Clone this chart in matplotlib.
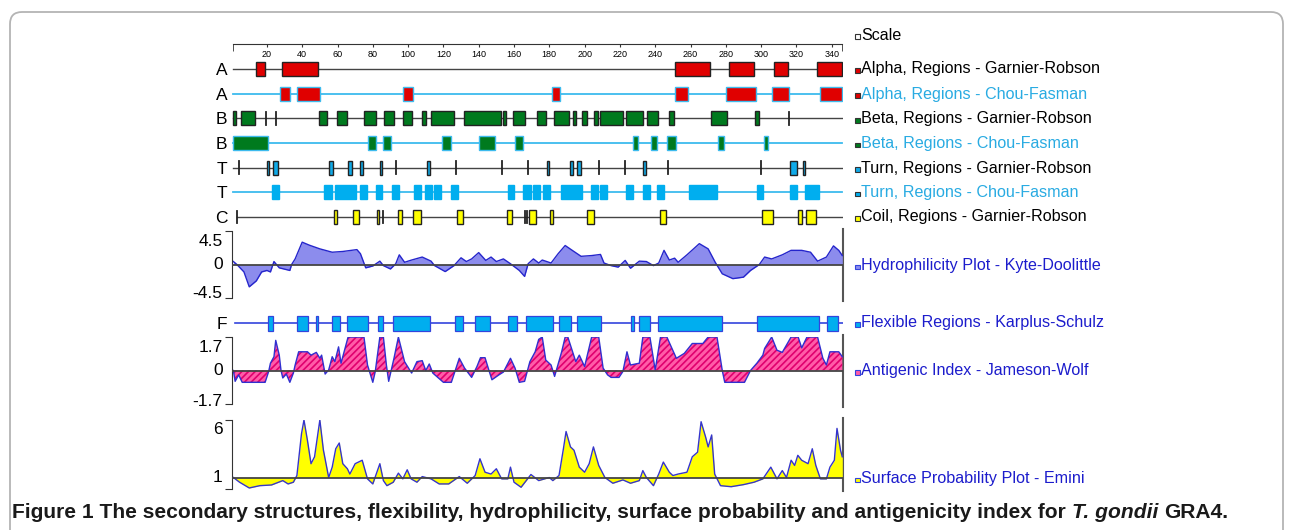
import matplotlib
matplotlib.use("Agg")
import matplotlib.pyplot as plt
from matplotlib.patches import Rectangle, FancyBboxPatch

# ---- secondary structure regions (residue start, residue end) ----
alpha_gr = [(13.8, 19.1), (28.4, 49.1), (251.4, 271.0), (281.8, 296.0), (307.5, 315.0), (331.5, 345.7)]
alpha_cf = [(27.4, 33.0), (36.9, 50.0), (97.0, 102.8), (181.7, 186.0), (251.4, 258.8),
            (280.0, 297.0), (306.0, 316.0), (333.4, 345.7)]
beta_gr = [(1.0, 2.5), (5.1, 13.3), (49.7, 54.2), (59.9, 65.2), (75.0, 81.6), (86.5, 92.2),
           (96.9, 102.0), (107.7, 110.1), (112.8, 126.2), (131.8, 152.5), (153.6, 155.5),
           (159.6, 166.2), (172.9, 178.1), (182.8, 191.3), (193.6, 195.0), (198.7, 201.2),
           (205.5, 207.4), (208.7, 221.9), (223.5, 232.9), (235.5, 241.8), (248.0, 250.8),
           (271.4, 280.8), (296.5, 299.0)]
beta_gr_ticks = [19.7, 25.0, 315.8]
beta_cf = [(1.0, 20.4), (77.1, 81.6), (85.6, 90.1), (119.4, 124.1), (140.2, 149.2), (160.6, 165.3),
           (227.6, 230.4), (237.4, 241.2), (246.9, 251.8), (275.8, 279.0), (301.8, 304.1)]
turn_gr = [(19.9, 21.4), (23.3, 26.5), (55.0, 57.3), (65.8, 68.0), (72.9, 74.3), (84.2, 85.0),
           (110.9, 112.4), (178.5, 180.0), (191.7, 193.2), (195.5, 198.0), (233.3, 234.8),
           (316.4, 320.2), (323.6, 324.9)]
turn_gr_ticks = [4.4, 93.1, 127.0, 153.0, 168.1, 208.2, 222.9, 247.1, 299.8]
turn_cf = [(22.9, 26.9), (52.5, 56.7), (58.6, 70.5), (72.7, 76.5), (81.8, 85.4), (90.7, 94.8),
           (103.2, 107.3), (109.6, 113.7), (114.7, 118.6), (124.3, 128.4), (156.8, 160.2),
           (165.3, 169.6), (170.6, 174.7), (176.6, 180.4), (186.5, 198.4), (203.4, 207.4),
           (208.7, 212.9), (223.5, 227.6), (233.3, 237.0), (241.2, 245.2), (259.3, 275.2),
           (297.5, 301.2), (316.4, 320.6), (325.0, 333.0)]
coil_gr = [(57.8, 59.6), (69.0, 72.2), (82.2, 83.7), (94.1, 96.4), (102.6, 107.1), (127.9, 131.3),
           (155.9, 159.0), (168.7, 172.3), (180.4, 182.3), (201.5, 205.3), (242.7, 246.1),
           (300.7, 306.9), (320.7, 323.3), (325.3, 331.0)]
coil_gr_ticks = [3.2, 85.6, 166.2, 167.2]
flex_ks = [(20.8, 23.6), (36.9, 43.5), (47.8, 49.1), (57.0, 61.4), (65.2, 77.5), (83.1, 85.9),
           (91.6, 112.4), (126.6, 131.3), (137.9, 146.4), (156.8, 161.9), (166.8, 182.3),
           (185.7, 192.3), (195.9, 209.3), (226.3, 228.2), (230.8, 237.0), (241.4, 278.0),
           (297.5, 333.0), (337.2, 343.7)]

# ---- hydrophilicity (Kyte-Doolittle) ----
hyd_pos = [1, 3, 7, 10, 14, 17, 20, 22, 24, 27, 33, 34, 36, 40, 44, 50, 57, 63, 71, 73, 76, 80,
           84, 86, 90, 93, 95, 98, 102, 108, 113, 115, 121, 126, 130, 133, 136, 140, 144, 147,
           150, 154, 158, 163, 166, 168, 171, 174, 176, 181, 185, 189, 193, 198, 204, 209, 211,
           215, 219, 223, 226, 231, 235, 239, 242, 245, 248, 251, 253, 258, 265, 270, 274, 278,
           284, 290, 294, 299, 302, 306, 312, 317, 323, 328, 332, 337, 341, 344, 346]
hyd_val = [0.4, 0.0, -1.0, -3.0, -2.2, -1.0, -0.8, -1.0, 0.4, -0.45, -0.8, 0.0, 0.75, 3.0, 2.6,
           2.1, 1.65, 1.75, 2.0, 1.45, -0.45, -0.2, 0.45, -0.15, -0.6, 0.1, 1.3, 0.3, 0.6, 1.0,
           0.45, -0.15, -0.95, -0.15, 0.9, 0.4, 0.75, 1.6, 0.55, 1.0, 0.4, 0.75, 0.1, -0.8, -1.6,
           0.1, 0.75, 0.2, 0.6, 0.2, 1.45, 2.55, 1.9, 1.1, 1.2, 1.35, 0.2, -0.15, -0.35, 0.55,
           -0.5, 0.45, 0.4, -0.15, 0.2, 1.9, 0.6, 0.85, 0.3, 1.3, 2.8, 2.1, 0.3, -1.25, -1.9,
           -1.7, -0.8, 0.0, 1.0, 0.75, 1.3, 1.9, 1.9, 1.65, 0.45, 1.0, 2.5, 1.9, 1.2]

# ---- antigenic index (Jameson-Wolf) ----
ant_pos = [1, 2, 4, 6, 19, 21, 22, 24, 25, 27, 28, 29, 31, 33, 35, 36, 38, 43, 45, 48, 50, 51,
           53, 55, 57, 58.5, 60.6, 62, 66, 75, 77, 80, 81.4, 84, 86, 87.7, 89, 92, 94.5, 98,
           102, 105, 108, 110, 112, 114, 120, 124.5, 129, 132, 136, 139, 141, 143.6, 146, 147.5,
           151.5, 154, 158, 160.6, 163, 166, 169, 172, 174, 176, 178, 181, 183, 187, 189, 190.5,
           195, 197, 200, 204, 208, 210.5, 213, 215, 219.5, 221.7, 224, 226, 231, 233, 237, 240,
           243, 246.6, 252, 256.5, 261, 267, 270, 275, 278, 279.4, 290.6, 294, 297.6, 301, 302,
           306, 309, 312, 317, 321, 323, 326, 332, 335, 337, 339, 344, 346]
ant_val = [0.0, -0.55, -0.22, -0.6, -0.6, -0.05, 0.37, 0.7, 1.53, 0.78, 0.0, -0.38, -0.18, -0.6,
           -0.13, 0.28, 0.95, 0.95, 0.78, 0.92, 0.62, 0.78, -0.18, 0.03, 0.7, 0.45, 1.2, 0.37,
           1.7, 1.7, 0.28, -0.6, -0.05, 1.7, 1.7, 0.28, -0.55, 0.62, 1.7, 0.45, -0.13, 0.45, 0.5,
           0.0, 0.33, -0.13, -0.6, -0.6, 0.62, 0.12, -0.35, 0.2, 0.65, 0.65, -0.05, -0.47, -0.22,
           -0.08, 0.62, 0.12, -0.6, -0.55, 0.45, 0.95, 1.58, 1.7, 0.53, 0.28, -0.3, 0.95, 1.7,
           1.7, 0.45, 0.78, 0.2, 1.7, 1.7, 0.12, -0.22, -0.35, -0.35, -0.05, 0.95, 0.28, 0.37,
           1.7, 1.7, 0.03, 1.7, 1.7, 0.62, 0.87, 1.37, 1.37, 1.7, 1.7, 0.0, -0.6, -0.6, 0.0, 0.37,
           0.78, 1.12, 1.7, 1.03, 0.92, 1.7, 1.7, 1.15, 1.7, 1.7, 0.62, 0.28, 0.95, 0.95, 0.7]

# ---- surface probability (Emini) ----
sur_pos = [1, 4.5, 10, 16, 22.6, 29, 32, 35, 37, 39.6, 41, 43, 45, 47, 50, 52, 55, 57, 59, 61,
           63, 65.6, 67, 70, 74, 77, 80, 84, 86, 88, 91.6, 94.5, 97, 99.5, 101.7, 105, 108, 113,
           117.6, 123, 129, 133.5, 138, 140.7, 143.6, 147, 150, 153, 156.5, 158, 160, 164, 169.6,
           174, 180, 182, 185.5, 188, 189.5, 192, 194, 197, 200, 202.6, 205, 208, 211.5, 216,
           221.7, 226, 231, 233, 235, 239, 242, 244.6, 248, 250, 253, 258, 261, 264, 266, 268.6,
           270, 272, 273.7, 277, 283, 290, 296, 301, 305.5, 309, 312, 314.4, 317, 319, 320.8, 323,
           326.6, 329, 331, 333.6, 337, 339, 341.5, 343, 345, 346]
sur_val = [1.0, 0.59, 0.09, 0.29, 0.35, 0.73, 0.44, 0.59, 1.17, 4.8, 6.0, 4.2, 2.2, 2.8, 6.0, 3.4,
           1.0, 1.9, 3.5, 4.0, 2.2, 1.76, 1.3, 2.2, 2.5, 0.88, 0.44, 2.2, 0.73, 0.29, 0.59, 1.38,
           0.88, 1.67, 0.88, 0.59, 1.08, 0.88, 0.44, 0.44, 1.08, 0.5, 1.17, 2.63, 1.46, 1.3, 1.76,
           0.88, 0.88, 1.9, 0.59, 0.15, 1.26, 0.73, 1.0, 0.73, 1.17, 3.5, 5.0, 3.66, 3.37, 1.9,
           1.46, 2.2, 3.66, 2.05, 1.0, 0.5, 0.79, 0.5, 0.73, 1.6, 1.0, 0.29, 1.3, 2.34, 1.46, 1.17,
           1.3, 1.46, 2.8, 3.2, 5.85, 4.5, 3.66, 4.7, 1.3, 0.29, 0.2, 0.38, 0.59, 0.88, 1.9, 0.88,
           1.6, 1.0, 2.5, 2.05, 2.93, 2.5, 2.2, 3.5, 2.05, 0.88, 0.88, 1.9, 2.5, 5.27, 3.37, 2.8]

scale_ticks = list(range(20, 341, 20))
seq_len = 346

legend_top = ["Scale", "Alpha, Regions - Garnier-Robson", "Alpha, Regions - Chou-Fasman",
              "Beta, Regions - Garnier-Robson", "Beta, Regions - Chou-Fasman",
              "Turn, Regions - Garnier-Robson", "Turn, Regions - Chou-Fasman",
              "Coil, Regions - Garnier-Robson"]
legend_low = ["Hydrophilicity Plot - Kyte-Doolittle", "Flexible Regions - Karplus-Schulz",
              "Antigenic Index - Jameson-Wolf", "Surface Probability Plot - Emini"]

# colours
RED, GREEN, CYAN, YELLOW = "#e00000", "#007a1e", "#10aae8", "#ffff00"
GR_LINE, CF_LINE = "#444444", "#3dbbee"
BLUE_TXT, CF_TXT = "#1c1ccc", "#29abe2"

W, H = 1290, 530
plt.rcParams['font.family'] = ['Liberation Sans', 'DejaVu Sans']
plt.rcParams['hatch.linewidth'] = 1.2
fig = plt.figure(figsize=(W / 100, H / 100), dpi=100)

X0, X1 = 231.6, 843.0
XMAX = (X1 - X0) / 1.765

# overlay in pixel coordinates for texts and frame
ov = fig.add_axes([0, 0, 1, 1])
ov.set_xlim(0, W)
ov.set_ylim(H, 0)
ov.axis("off")
ov.add_patch(FancyBboxPatch((10, 12), 1273, 560, boxstyle="round,pad=0,rounding_size=12",
                            facecolor="white", edgecolor="#b4b4b4", lw=1.3))


def px_axes(top, bottom):
    ax = fig.add_axes([X0 / W, 1 - bottom / H, (X1 - X0) / W, (bottom - top) / H])
    ax.set_xlim(0, XMAX)
    ax.patch.set_alpha(0)
    for s in ax.spines.values():
        s.set_visible(False)
    ax.set_xticks([])
    ax.set_yticks([])
    return ax


# scale ruler
axs = px_axes(30, 44)
axs.spines["bottom"].set_visible(True)
axs.spines["bottom"].set_color("#333333")
axs.spines["bottom"].set_bounds(1, seq_len)
axs.set_xticks(scale_ticks)
axs.set_xticklabels([str(t) for t in scale_ticks], fontsize=6.5)
axs.tick_params(axis="x", direction="out", length=2, pad=2, color="#333333")
axs.set_xticks([1, seq_len], minor=True)
axs.tick_params(axis="x", which="minor", length=5, color="#333333")

# secondary structure tracks
row_top, row_step = 69.0, 24.67
axt = px_axes(30, 228)
axt.set_ylim((228 - row_top) / row_step, -(row_top - 30) / row_step)
rows = [
    ("A", alpha_gr, [], RED, "#222222", GR_LINE, 1.0),
    ("A", alpha_cf, [], RED, CF_LINE, CF_LINE, 1.0),
    ("B", beta_gr, beta_gr_ticks, GREEN, "#222222", GR_LINE, 1.0),
    ("B", beta_cf, [], GREEN, CF_LINE, CF_LINE, 1.0),
    ("T", turn_gr, turn_gr_ticks, CYAN, "#222222", GR_LINE, 1.0),
    ("T", turn_cf, [], "#00aeef", "#00aeef", CF_LINE, 1.0),
    ("C", coil_gr, coil_gr_ticks, YELLOW, "#222222", GR_LINE, 3.2),
]
bh = 0.57
for i, (letter, boxes, ticks, face, edge, line, start) in enumerate(rows):
    lw_line = 1.3 if line == CF_LINE else 1.0
    axt.plot([start, seq_len], [i, i], color=line, lw=lw_line, zorder=1)
    for s, e in boxes:
        axt.add_patch(Rectangle((s, i - bh / 2), e - s, bh, facecolor=face, edgecolor=edge,
                                lw=1.0, zorder=2))
    for t in ticks:
        axt.plot([t, t], [i - 0.26, i + 0.26], color="#222222", lw=1.3, zorder=3)
axt.set_yticks(range(len(rows)))
axt.set_yticklabels([r[0] for r in rows], fontsize=12.5)
axt.tick_params(axis="y", length=0, pad=3)


def value_axes(top, bottom, lo, hi, right_top, right_bottom):
    ax = px_axes(top, bottom)
    ax.set_ylim(lo, hi)
    ax.spines["left"].set_visible(True)
    ax.spines["left"].set_color("#333333")
    ax.set_yticks([lo, hi])
    ax.set_yticklabels([])
    ax.tick_params(axis="y", direction="out", length=5, color="#333333")
    # right edge line
    ov.plot([X1, X1], [right_top, right_bottom], color="#555555", lw=1.5, zorder=5)
    return ax


def ylabel(ax, val, text, dy):
    ax.annotate(text, xy=(0, val), xycoords=("axes fraction", "data"), xytext=(-9, dy),
                textcoords="offset pixels", ha="right", va="center", fontsize=12.5)


# hydrophilicity
axh = value_axes(231, 298, -4.5, 4.5, 229, 301)
axh.fill_between(hyd_pos, 0, hyd_val, color="#8c8ced", lw=0, zorder=1)
axh.plot(hyd_pos, hyd_val, color="#2525cc", lw=1.0, zorder=2)
axh.axhline(0, color="#444444", lw=1.3, zorder=3)
ylabel(axh, 4.5, "4.5", -11)
ylabel(axh, 0, "0", 0)
ylabel(axh, -4.5, "-4.5", 5)

# flexible regions
axf = px_axes(313, 333)
axf.set_ylim(1, -1)
axf.plot([1.9, seq_len + 0.5], [0, 0], color="#3344dd", lw=1.2, zorder=1)
for s, e in flex_ks:
    axf.add_patch(Rectangle((s, -0.75), e - s, 1.5, facecolor="#00aeef", edgecolor="#3344dd",
                            lw=0.9, zorder=2))
axf.set_yticks([0])
axf.set_yticklabels(["F"], fontsize=12.5)
axf.tick_params(axis="y", length=0, pad=3)

# antigenic index
axa = value_axes(337, 404, -1.7, 1.7, 335, 407)
axa.fill_between(ant_pos, 0, ant_val, facecolor="#ff5ca8", edgecolor="#e0006e", hatch="/////",
                 lw=0, zorder=1)
axa.plot(ant_pos, ant_val, color="#3030d0", lw=1.0, zorder=2)
axa.axhline(0, color="#444444", lw=1.3, zorder=3)
ylabel(axa, 1.7, "1.7", -10)
ylabel(axa, 0, "0", 0)
ylabel(axa, -1.7, "-1.7", 3)

# surface probability
axp = value_axes(420, 489, 0, 6, 418, 491)
axp.fill_between(sur_pos, 1, sur_val, color=YELLOW, lw=0, zorder=1)
axp.plot(sur_pos, sur_val, color="#3535cc", lw=1.0, zorder=2)
axp.axhline(1, color="#444444", lw=1.3, zorder=3)
ylabel(axp, 6, "6", -10)
ylabel(axp, 1, "1", 0)

# legend texts
top_y = [35, 69, 94, 119, 143.5, 168, 192.5, 217]
top_sq = ["white", RED, RED, GREEN, GREEN, CYAN, "#00aeef", YELLOW]
for txt, y, sq in zip(legend_top, top_y, top_sq):
    color = CF_TXT if "Chou" in txt else "black"
    ov.add_patch(Rectangle((855, y - 1), 4.5, 4.5, facecolor=sq, edgecolor="#333333", lw=0.8))
    ov.text(861, y, txt, fontsize=11.6, color=color, va="center", ha="left")
low_y = [265.5, 323, 371, 478.5]
low_sq = ["#8c8ced", "#00aeef", "#ff5ca8", YELLOW]
for txt, y, sq in zip(legend_low, low_y, low_sq):
    ov.add_patch(Rectangle((855, y - 1), 4.5, 4.5, facecolor=sq, edgecolor="#3344dd", lw=0.8))
    ov.text(861, y, txt, fontsize=11.6, color=BLUE_TXT, va="center", ha="left")

# caption: pieces placed one after another, fitted to the reference width
parts = [("Figure 1 The secondary structures, flexibility, hydrophilicity, surface probability "
          "and antigenicity index for", "normal"), ("T. gondii", "italic"), ("GRA4.", "normal")]
renderer = fig.canvas.get_renderer()


def place_caption(fs):
    probe = ov.text(0, 0, "a b", fontsize=fs, fontweight="bold")
    gap = probe.get_window_extent(renderer).width
    probe.set_text("ab")
    gap -= probe.get_window_extent(renderer).width
    probe.remove()
    x = 12
    made = []
    for txt, style in parts:
        t = ov.text(x, 513, txt, fontsize=fs, fontweight="bold", style=style, va="center",
                    ha="left", color="#1a1a1a")
        made.append(t)
        x += t.get_window_extent(renderer).width + gap
    return made, x - gap


fs = 12
for _ in range(3):
    made, end = place_caption(fs)
    if abs(end - 1232) < 2:
        break
    for t in made:
        t.remove()
    fs *= (1232 - 12) / (end - 12)
else:
    made, end = place_caption(fs)

fig.savefig("out.png", dpi=100)
